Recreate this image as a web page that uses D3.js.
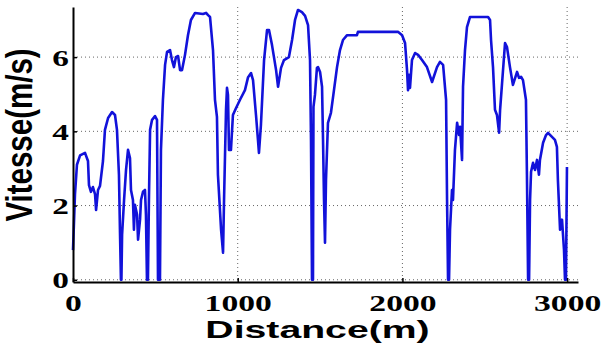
<!DOCTYPE html>
<html>
<head>
<meta charset="utf-8">
<script src="https://cdn.jsdelivr.net/npm/d3@7"></script>
<style>
  html, body { margin: 0; padding: 0; background: #fff; }
  svg { display: block; }
</style>
</head>
<body>
<div id="chart"></div>
<script>
// ---- Data (distance in m, speed in m/s) ----
const distance = [
  0,12,24,43,73,91,97,109,121,134,140,152,164,182,194,213,237,255,267,279,285,291,
  294,298,310,322,334,346,352,364,370,376,389,395,407,413,425,437,443,449,
  455,461,468,480,498,510,516,
  528,534,546,559,571,589,601,613,625,638,650,662,680,698,716,741,789,808,820,832,850,862,874,880,899,911,
  917,929,935,941,947,959,971,990,1014,1044,1063,1081,1093,1111,1123,1129,1141,1160,1178,1190,1208,1233,1245,1263,1281,1311,1330,1348,1366,1390,1409,1427,1439,1445,1451,
  1457,1460,1469,1481,1488,1500,1512,1518,1524,1530,1536,1548,1566,1579,1603,1621,1639,1664,1724,1730,1973,1998,2016,2028,2034,2040,2046,2058,2077,2095,2119,2149,2180,2210,2228,2247,2265,2271,2277,
  2283,2289,2301,2307,2319,2332,2344,2350,2362,2368,2380,2392,2410,2520,2532,2538,2550,2562,2574,2587,2593,2605,2623,2635,2653,2671,2696,2708,2720,2732,2750,2756,2763,
  2769,2775,2781,2793,2805,2817,2829,2835,2854,2872,2884,2908,2926,2938,2944,2957,2969,2981,2987,2993,2999
];
const speed = [
  0.8,2.3,3.1,3.35,3.42,3.2,2.55,2.37,2.5,2.3,1.88,2.42,2.53,3.2,4.04,4.36,4.52,4.44,4.04,2.83,1.35,0,
  0,1.21,2.15,2.96,3.5,3.28,2.42,2.15,1.35,2.02,1.75,1.08,1.62,2.15,2.37,2.42,1.75,0,
  0,2.15,4.04,4.31,4.41,4.31,0,
  0,3.5,4.85,5.79,6.14,6.19,5.92,5.73,6.0,6.03,5.65,5.65,6.06,6.59,7.0,7.19,7.16,7.19,7.13,7.08,6.19,4.85,4.39,2.83,1.35,0.73,
  2.15,4.58,5.17,4.98,3.5,3.5,4.44,4.63,4.85,5.11,5.46,5.57,5.38,4.44,3.77,3.42,4.17,5.92,6.73,6.73,6.33,5.65,5.2,5.71,5.92,6.0,6.46,7.0,7.27,7.21,7.11,6.86,5.92,3.77,0,
  0,4.66,4.98,5.71,5.73,5.6,5.2,3.77,2.15,1.0,2.69,4.23,4.5,4.93,5.73,6.19,6.46,6.59,6.59,6.68,6.68,6.59,6.38,5.65,5.11,5.52,5.17,5.92,6.11,6.06,5.92,5.73,5.33,5.73,5.87,5.79,4.85,2.15,0,
  0,1.35,2.42,2.15,3.5,4.23,3.9,4.12,3.23,5.2,6.19,6.81,7.08,7.08,7.0,6.46,5.73,4.58,4.44,3.96,4.58,5.3,6.38,6.27,5.73,5.25,5.6,5.44,5.47,5.38,4.85,2.83,0,
  0,2.15,2.91,3.15,2.96,3.23,2.83,3.23,3.69,3.9,3.96,3.85,3.77,3.58,2.69,1.35,1.62,0.81,0,0,3.04
];
const xTicks = [0, 1000, 2000, 3000];
const yTicks = [0, 2, 4, 6];
const xDomain = [0, 3066];
const yDomain = [-0.06, 7.35];
const xLabel = "Distance(m)";
const yLabel = "Vitesse(m/s)";

// ---- Layout ----
const W = 604, H = 349;
const mL = 73, mR = 578, mT = 7, mB = 282;

const svg = d3.select("#chart").append("svg")
  .attr("width", W).attr("height", H);

const x = d3.scaleLinear().domain(xDomain).range([mL, mR]);
const y = d3.scaleLinear().domain(yDomain).range([mB, mT]);

// Grid (dotted)
const grid = svg.append("g");
grid.selectAll("line.h").data(yTicks).join("line")
  .attr("class", "h")
  .attr("x1", mL).attr("x2", mR)
  .attr("y1", d => y(d)).attr("y2", d => y(d))
  .attr("stroke", "#666").attr("stroke-width", 1).attr("stroke-dasharray", "1,3");
grid.selectAll("line.v").data(xTicks.filter(d => d > 0)).join("line")
  .attr("class", "v")
  .attr("y1", mT).attr("y2", mB)
  .attr("x1", d => x(d)).attr("x2", d => x(d))
  .attr("stroke", "#666").attr("stroke-width", 1).attr("stroke-dasharray", "1,3");

// Data line
const pts = distance.map((d, i) => [d, speed[i]]);
svg.append("path")
  .datum(pts)
  .attr("fill", "none")
  .attr("stroke", "#1212da")
  .attr("stroke-width", 2.6)
  .attr("stroke-linejoin", "round")
  .attr("d", d3.line().x(d => x(d[0])).y(d => y(d[1])));

// Axes
const xAxis = svg.append("g")
  .attr("transform", `translate(0,${mB})`)
  .call(d3.axisBottom(x).tickValues(xTicks).tickSize(-4).tickSizeOuter(0).tickFormat(d3.format("d")));
const yAxis = svg.append("g")
  .attr("transform", `translate(${mL},0)`)
  .call(d3.axisLeft(y).tickValues(yTicks).tickSize(-4).tickSizeOuter(0).tickFormat(d3.format("d")));

[xAxis, yAxis].forEach(g => {
  g.select(".domain").attr("stroke", "#000").attr("stroke-width", 2);
  g.selectAll(".tick line").attr("stroke", "#000").attr("stroke-width", 1.5);
});

xAxis.selectAll(".tick text")
  .attr("x", 0).attr("y", 0).attr("dy", null)
  .attr("transform", "translate(0,29) scale(1.4,1)")
  .attr("text-anchor", "middle")
  .attr("fill", "#000")
  .style("font-family", "'Liberation Serif', 'Times New Roman', serif")
  .style("font-weight", "bold")
  .style("font-size", "24px");

yAxis.selectAll(".tick text")
  .attr("x", 0).attr("y", 0).attr("dy", null)
  .attr("transform", "translate(-4,8) scale(1.45,1)")
  .attr("text-anchor", "end")
  .attr("fill", "#000")
  .style("font-family", "'Liberation Serif', 'Times New Roman', serif")
  .style("font-weight", "bold")
  .style("font-size", "23px");

// Axis labels
svg.append("text")
  .attr("transform", `translate(${(205 + 430) / 2},338) scale(1.6,1)`)
  .attr("text-anchor", "middle")
  .style("font-family", "'Liberation Sans', Arial, sans-serif")
  .style("font-weight", "bold")
  .style("font-size", "24.5px")
  .attr("fill", "#000")
  .text(xLabel);

svg.append("text")
  .attr("transform", `translate(32,135) rotate(-90) scale(1,1.24)`)
  .attr("text-anchor", "middle")
  .style("font-family", "'Liberation Sans', Arial, sans-serif")
  .style("font-weight", "bold")
  .style("font-size", "29.5px")
  .attr("fill", "#000")
  .text(yLabel);
</script>
</body>
</html>
